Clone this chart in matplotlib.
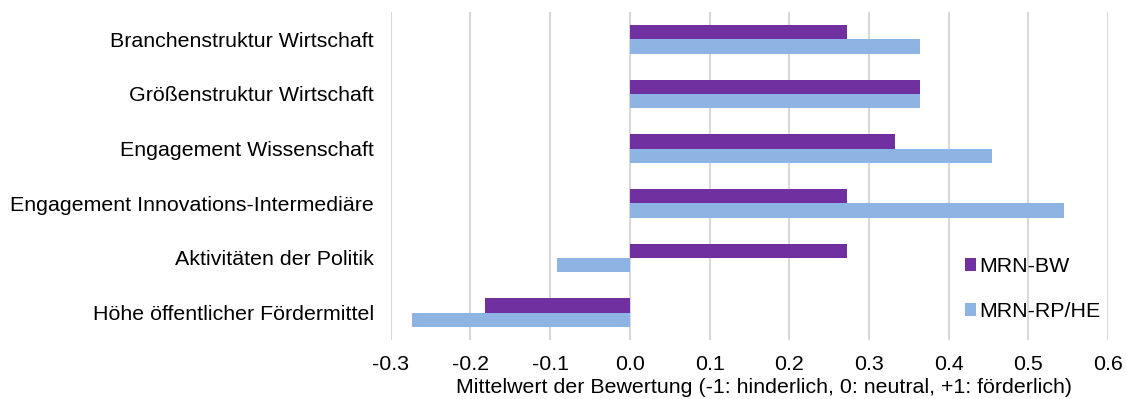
import numpy as np
import matplotlib.pyplot as plt

plt.rcParams['font.family'] = ['Liberation Sans', 'DejaVu Sans']

categories = [
    "Branchenstruktur Wirtschaft",
    "Größenstruktur Wirtschaft",
    "Engagement Wissenschaft",
    "Engagement Innovations-Intermediäre",
    "Aktivitäten der Politik",
    "Höhe öffentlicher Fördermittel",
]
mrn_bw = [0.273, 0.364, 0.333, 0.273, 0.273, -0.182]
mrn_rphe = [0.364, 0.364, 0.455, 0.545, -0.091, -0.273]
x_ticks = [-0.3, -0.2, -0.1, 0.0, 0.1, 0.2, 0.3, 0.4, 0.5, 0.6]

fs = 15.4

fig = plt.figure(figsize=(11.26, 3.99), dpi=100)
ax = fig.add_axes([0.347, 0.148, 0.637, 0.822])

y = np.arange(len(categories))
h = 0.26
ax.barh(y - h / 2, mrn_bw, height=h, color="#7030A0", label="MRN-BW", zorder=3)
ax.barh(y + h / 2, mrn_rphe, height=h, color="#8EB4E3", label="MRN-RP/HE", zorder=3)

ax.set_ylim(len(categories) - 0.5, -0.5)
ax.set_yticks(y)
ax.set_yticklabels(categories, fontsize=fs)
ax.set_xlim(-0.3, 0.6)
ax.set_xticks(x_ticks)
ax.set_xticklabels([f"{t:.1f}" for t in x_ticks], fontsize=fs)
ax.tick_params(axis="y", length=0, pad=12)
ax.tick_params(axis="x", length=0, pad=11)
ax.xaxis.grid(True, color="#D9D9D9", linewidth=1.5, zorder=0)
for s in ax.spines.values():
    s.set_visible(False)
ax.set_xlabel("Mittelwert der Bewertung (-1: hinderlich, 0: neutral, +1: förderlich)",
              fontsize=fs, labelpad=3, x=0.521)

ax.legend(loc="lower right", bbox_to_anchor=(1.017, 0.0), frameon=False, fontsize=fs,
          handlelength=0.55, handleheight=0.55, handletextpad=0.15, labelspacing=1.2)

plt.savefig("out.png", dpi=100)
